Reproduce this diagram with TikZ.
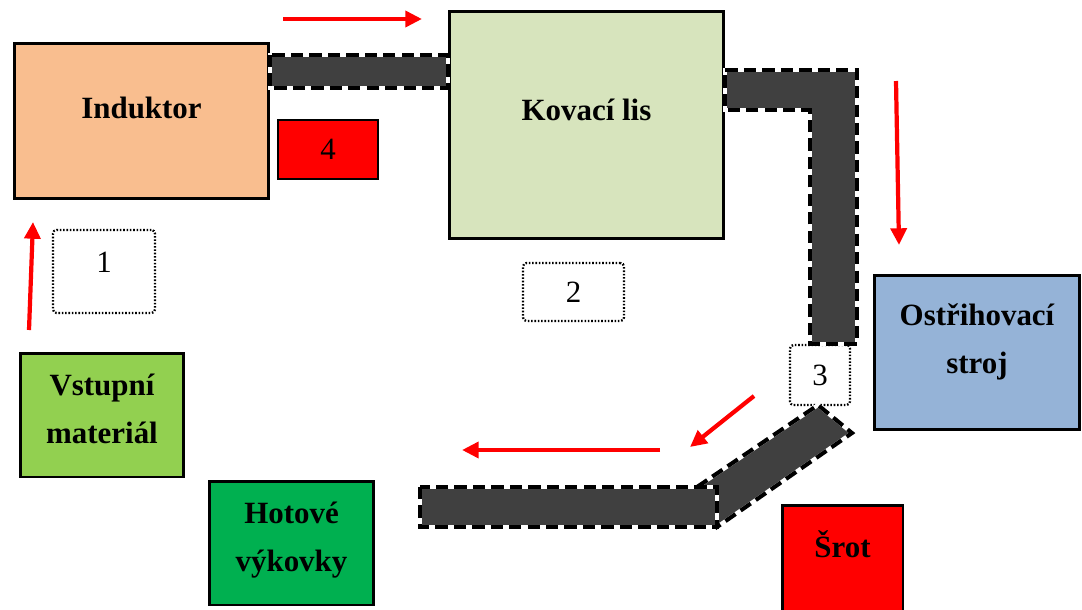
\documentclass[tikz,border=0pt]{standalone}
\usepackage{fontspec}
\setmainfont{Liberation Serif}
\usetikzlibrary{arrows.meta}

\definecolor{peach}{HTML}{F9BE8F}
\definecolor{pressgreen}{HTML}{D7E4BD}
\definecolor{trimblue}{HTML}{95B3D7}
\definecolor{rawgreen}{HTML}{92D050}
\definecolor{donegreen}{HTML}{00B050}
\definecolor{beltgray}{HTML}{404040}

\begin{document}
\begin{tikzpicture}[x=0.02cm,y=-0.02cm,>={Triangle[length=9.5pt,width=9pt]},
	font=\fontsize{17.6}{27}\selectfont]
	\tikzstyle{station}=[draw=black,line width=1.7pt,align=center,inner sep=0pt,
		font=\fontsize{17.6}{27}\selectfont\bfseries]
	\tikzstyle{spot}=[draw=black,line width=1.3pt,dash pattern=on 0.9pt off 1pt,
		rounded corners=2pt,inner sep=0pt]
	\tikzstyle{belt}=[preaction={fill=beltgray,draw=white,line width=2.3pt},
		draw=black,line width=2.3pt,dash pattern=on 7pt off 3.5pt]
	\tikzstyle{flow}=[->,red,line width=2.4pt]

	\useasboundingbox (0,0) rectangle (1082,609);

	% machines and stores
	\node[station,fill=peach,minimum width=5.1cm,minimum height=3.12cm,text depth=15pt]
		(induktor) at (141.5,121) {Induktor};
	\node[station,fill=red,font=\fontsize{17.6}{27}\selectfont,line width=1.2pt,
		minimum width=2cm,minimum height=1.18cm] (scrap4) at (328,149.5) {4};
	\node[station,fill=pressgreen,minimum width=5.5cm,minimum height=4.56cm,text depth=17pt]
		(lis) at (586.5,125) {Kovací lis};
	\node[station,fill=trimblue,minimum width=4.12cm,minimum height=3.1cm,text depth=16pt]
		(strihac) at (977,352.5) {Ostřihovací\\stroj};
	\node[station,fill=rawgreen,minimum width=3.28cm,minimum height=2.48cm,text depth=7pt]
		(vstup) at (102,415) {Vstupní\\materiál};
	\node[station,fill=donegreen,minimum width=3.3cm,minimum height=2.48cm,text depth=7pt]
		(hotove) at (291.5,543) {Hotové\\výkovky};
	\node[station,fill=red,minimum width=2.42cm,minimum height=2.4cm,text depth=24pt]
		(srot) at (842.5,565) {Šrot};

	% operator places
	\node[spot,minimum width=2.04cm,minimum height=1.66cm,text depth=10pt] (p1) at (104,271.5) {1};
	\node[spot,minimum width=2.02cm,minimum height=1.16cm] (p2) at (573.5,292) {2};
	\node[spot,minimum width=1.2cm,minimum height=1.2cm] (p3) at (820,375) {3};

	% conveyors
	\draw[belt] (induktor.east |- 0,55) rectangle (lis.west |- 0,88);
	\draw[belt] (lis.east |- 0,70) -- (857,70) -- (p3.north -| 857,0)
		-- (p3.north -| 810,0) -- (810,110) -- (lis.east |- 0,110) -- cycle;
	\draw[belt] (697,487) -- (818,405) -- (852,433) -- (717,527) -- cycle;
	\draw[belt] (420,487) rectangle (717,527);

	% material flow
	\coordinate (f1a) at (29,330);  \coordinate (f1b) at (33,222);
	\coordinate (f2a) at (283,19);  \coordinate (f2b) at (422,19);
	\coordinate (f3a) at (896,81);  \coordinate (f3b) at (899,245);
	\coordinate (f4a) at (754,396); \coordinate (f4b) at (690,447);
	\coordinate (f5a) at (660,450); \coordinate (f5b) at (462,450);
	\draw[flow] (f1a) -- (f1b);
	\draw[flow] (f2a) -- (f2b);
	\draw[flow] (f3a) -- (f3b);
	\draw[flow] (f4a) -- (f4b);
	\draw[flow] (f5a) -- (f5b);
\end{tikzpicture}
\end{document}
